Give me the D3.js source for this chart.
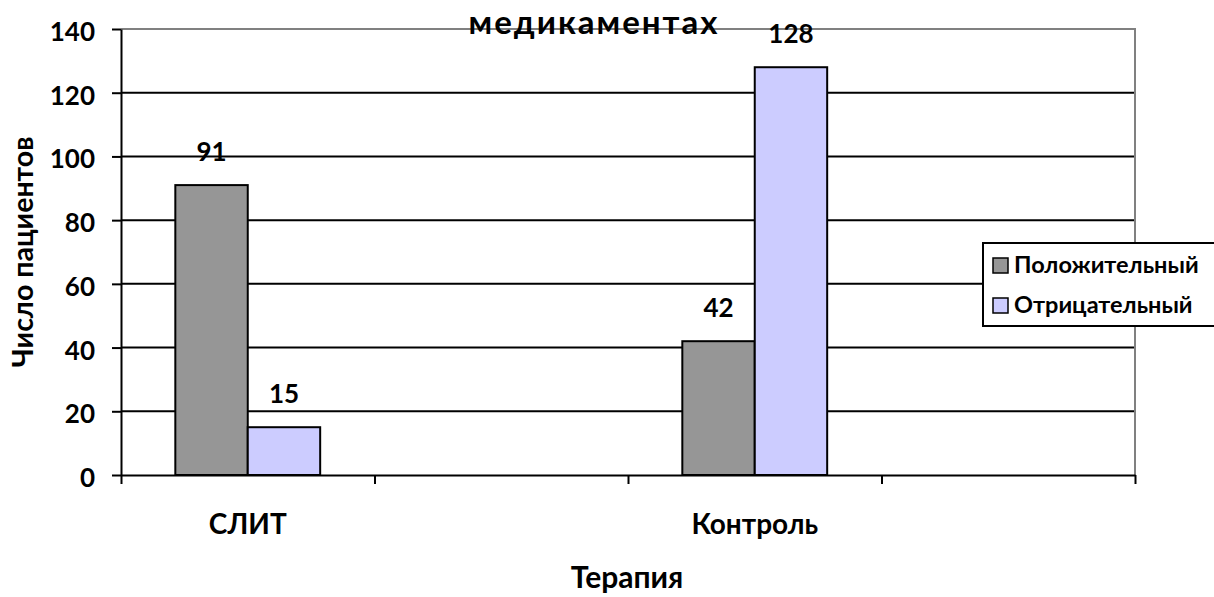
<!DOCTYPE html>
<html><head><meta charset="utf-8">
<script src="https://cdn.jsdelivr.net/npm/d3@7"></script>
<style>
body{margin:0;background:#fff;}
text{font-family:Lato,"Open Sans",sans-serif;font-weight:bold;fill:#000;}
</style></head>
<body><svg id="c" width="1214" height="597"></svg>
<script>
const categories = ["СЛИТ", "", "Контроль", ""];
const seriesNames = ["Положительный", "Отрицательный"];
const positive = [91, null, 42, null];
const negative = [15, null, 128, null];
const yTicks = [0, 20, 40, 60, 80, 100, 120, 140];
const colors = ["#969696", "#CCCCFF"];
const titleText = "медикаментах";
const xTitle = "Терапия";
const yTitle = "Число пациентов";

const svg = d3.select("#c");
const L = 121, R = 1135, T = 29, B = 475;

const x = d3.scaleBand().domain(d3.range(categories.length)).range([L, R]).paddingInner(0).paddingOuter(0);
const xs = d3.scaleBand().domain(seriesNames).range([0, x.bandwidth()]).paddingInner(0).paddingOuter(0.75);
const xEdge = d3.scaleLinear().domain([0, categories.length]).range([L, R]);
const y = d3.scaleLinear().domain([0, 140]).range([B, T]);

// gridlines
svg.append("g").selectAll("line").data(yTicks.filter(v => v > 0 && v < 140)).join("line")
  .attr("x1", L).attr("x2", R).attr("y1", d => y(d)).attr("y2", d => y(d))
  .attr("stroke", "#000").attr("stroke-width", 2);
// plot border top/right
svg.append("path").attr("d", `M${L},${y(140)}H${R}V${B}`).attr("fill", "none").attr("stroke", "#808080").attr("stroke-width", 2);

// bars
const data = [];
categories.forEach((c, i) => {
  [positive, negative].forEach((arr, s) => {
    if (arr[i] != null) data.push({ i, s, v: arr[i] });
  });
});
svg.append("g").selectAll("rect").data(data).join("rect")
  .attr("x", d => x(d.i) + xs(seriesNames[d.s]))
  .attr("width", xs.bandwidth())
  .attr("y", d => y(d.v))
  .attr("height", d => y(0) - y(d.v))
  .attr("fill", d => colors[d.s])
  .attr("stroke", "#000").attr("stroke-width", 2);

// data labels
svg.append("g").selectAll("text").data(data).join("text")
  .attr("x", d => x(d.i) + xs(seriesNames[d.s]) + xs.bandwidth() / 2)
  .attr("y", d => y(d.v) - 24)
  .attr("text-anchor", "middle").attr("font-size", 26)
  .text(d => d.v);

// axes
const yAxis = svg.append("g").attr("transform", `translate(${L},0)`)
  .call(d3.axisLeft(y).tickValues(yTicks).tickSize(9).tickSizeOuter(0).tickPadding(17));
yAxis.selectAll("text").attr("font-size", 26).attr("font-family", "Lato").attr("font-weight", "bold").attr("dy", "0.44em");
yAxis.selectAll("line").attr("stroke", "#000").attr("stroke-width", 2);
yAxis.select(".domain").attr("stroke", "#000").attr("stroke-width", 2);

const xAxis = svg.append("g").attr("transform", `translate(0,${B})`)
  .call(d3.axisBottom(xEdge).ticks(categories.length).tickFormat("").tickSize(9).tickSizeOuter(0));
xAxis.selectAll("line").attr("stroke", "#000").attr("stroke-width", 2);
xAxis.select(".domain").attr("stroke", "#000").attr("stroke-width", 2);

// category labels
svg.append("g").selectAll("text").data(categories).join("text")
  .attr("x", (d, i) => x(i) + x.bandwidth() / 2)
  .attr("y", 534).attr("text-anchor", "middle").attr("font-size", 28)
  .text(d => d);

// axis titles
svg.append("text").attr("x", 627).attr("y", 588).attr("text-anchor", "middle").attr("font-size", 30).text(xTitle);
svg.append("text").attr("transform", "translate(33,252) rotate(-90)").attr("text-anchor", "middle").attr("font-size", 28.5).text(yTitle);

// title
svg.append("text").attr("x", 594).attr("y", 34).attr("text-anchor", "middle").attr("font-size", 33)
  .attr("letter-spacing", 2).text(titleText);

// legend
const lg = svg.append("g");
lg.append("rect").attr("x", 983).attr("y", 243).attr("width", 240).attr("height", 83)
  .attr("fill", "#fff").attr("stroke", "#000").attr("stroke-width", 2);
seriesNames.forEach((n, k) => {
  const yy = 258 + k * 40;
  lg.append("rect").attr("x", 993).attr("y", yy).attr("width", 15).attr("height", 15)
    .attr("fill", colors[k]).attr("stroke", "#000").attr("stroke-width", 1.5);
  lg.append("text").attr("x", 1014).attr("y", yy + 15).attr("font-size", 23.5).text(n);
});
</script></body></html>
